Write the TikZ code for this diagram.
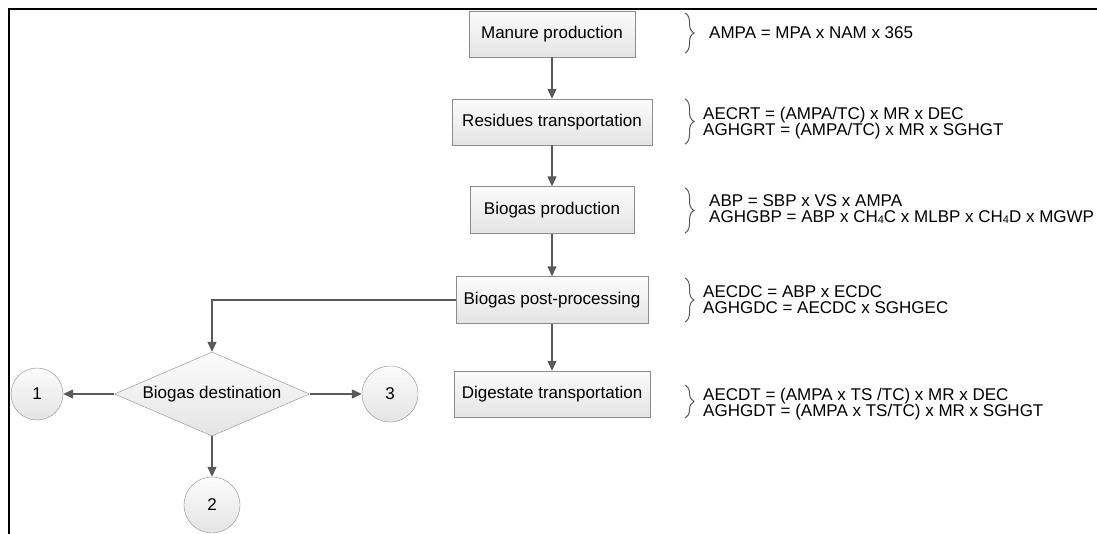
\documentclass[tikz,border=0pt]{standalone}
\usepackage{fontspec}
\setmainfont{Liberation Sans}
\usetikzlibrary{shapes.geometric,arrows.meta,decorations.pathreplacing}
\definecolor{linegray}{HTML}{5A5A5A}
\definecolor{edgegray}{HTML}{8C8C8C}
\definecolor{boxtop}{HTML}{FCFCFC}
\definecolor{boxbot}{HTML}{E4E4E4}
\newcommand{\lowfour}{\raisebox{-1pt}{\fontsize{11}{11}\selectfont 4}}
\begin{document}
\begin{tikzpicture}[x=1pt,y=-1pt,
  font=\fontsize{17}{16}\selectfont,
  stage/.style={draw=edgegray,top color=boxtop,bottom color=boxbot,minimum height=46pt,inner xsep=0pt},
  choice/.style={diamond,draw=edgegray,top color=boxtop,bottom color=boxbot,minimum width=195pt,minimum height=84pt,inner sep=0pt,aspect=2.3},
  endpt/.style={circle,draw=edgegray,top color=boxtop,bottom color=boxbot,minimum size=56pt,inner sep=0pt},
  flow/.style={draw=linegray,line width=1.3pt,-{Triangle[length=10pt,width=9pt]}},
  formula/.style={anchor=west,align=left,inner sep=0pt},
  curly/.style={draw=linegray,line width=1pt,decorate,decoration={brace,amplitude=9pt,aspect=0.5}}]
  \useasboundingbox (0,0) rectangle (1097,534);
  \draw[line width=2pt] (1097,9) -- (9,9) -- (9,534);
  % main chain
  \node[stage,minimum width=166pt] (mp) at (552,34) {Manure production};
  \node[stage,minimum width=200pt] (rt) at (552,122) {Residues transportation};
  \node[stage,minimum width=164pt,minimum height=47pt] (bp) at (552,210) {Biogas production};
  \node[stage,minimum width=192pt,minimum height=47pt] (pp) at (552,300) {Biogas post-processing};
  \node[stage,minimum width=196pt] (dt) at (552,394) {Digestate transportation};
  % destination of the biogas
  \node[choice] (bd) at (212,394) {Biogas destination};
  \node[endpt,minimum size=52pt] (e1) at (37,394) {1};
  \node[endpt] (e2) at (212,505) {2};
  \node[endpt] (e3) at (390,394) {3};
  \draw[flow] (mp) -- (rt);
  \draw[flow] (rt) -- (bp);
  \draw[flow] (bp) -- (pp);
  \draw[flow] (pp) -- (dt);
  \draw[flow] (pp.west) -| (bd.north);
  \draw[flow] (bd.west) -- (e1);
  \draw[flow] (bd.east) -- (e3);
  \draw[flow] (bd.south) -- (e2);
  % equations
  \node[formula] (fmp) at (709,33) {AMPA = MPA x NAM x 365};
  \node[formula] (frt) at (703,123) {AECRT = (AMPA/TC) x MR x DEC\\AGHGRT = (AMPA/TC) x MR x SGHGT};
  \node[formula] (fbp) at (709,209) {ABP = SBP x VS x AMPA\\AGHGBP = ABP x CH\lowfour C x MLBP x CH\lowfour D x MGWP};
  \node[formula] (fpp) at (703,300) {AECDC = ABP x ECDC\\AGHGDC = AECDC x SGHGEC};
  \node[formula] (fdt) at (703,404) {AECDT = (AMPA x TS /TC) x MR x DEC\\AGHGDT = (AMPA x TS/TC) x MR x SGHGT};
  \draw[curly] (685,13) -- (685,53);
  \draw[curly] (685,99) -- (685,144);
  \draw[curly] (685,188) -- (685,233);
  \draw[curly] (685,278) -- (685,322);
  \draw[curly] (685,385) -- (685,418);
\end{tikzpicture}
\end{document}
